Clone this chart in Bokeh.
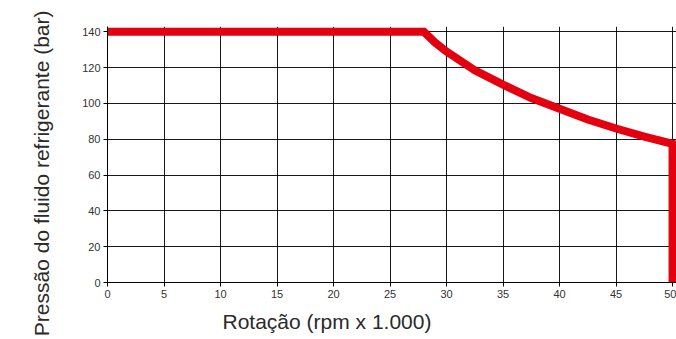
import numpy as np
from bokeh.plotting import figure
from bokeh.models import Range1d, FixedTicker, Title
from bokeh.embed import file_html
from bokeh.resources import INLINE

rotacao = [0, 28, 29, 30, 32.5, 35, 37.5, 40, 42.5, 45, 47.5, 50, 50]
pressao = [140, 140, 134, 129, 118.5, 110.5, 103, 97, 91, 86, 81.5, 77.5, 0]
x_ticks = [0, 5, 10, 15, 20, 25, 30, 35, 40, 45, 50]
y_ticks = [0, 20, 40, 60, 80, 100, 120, 140]
x_title = "Rotação (rpm x 1.000)"
y_title = "Pressão do fluido refrigerante (bar)"

p = figure(width=676, height=339, output_backend="svg", toolbar_location=None,
           x_range=Range1d(0, 50.35), y_range=Range1d(0, 143),
           min_border_left=107, min_border_right=0, min_border_top=26, min_border_bottom=57)
p.outline_line_color = None
p.background_fill_color = "white"
p.border_fill_color = "white"

for ax in (p.xaxis[0], p.yaxis[0]):
    ax.major_label_text_font = "Liberation Sans"
    ax.major_label_text_font_size = "11px"
    ax.major_label_text_color = "#333333"
    ax.axis_line_color = "black"
    ax.major_tick_line_color = "black"
    ax.major_tick_out = 4
    ax.major_tick_in = 0
    ax.minor_tick_line_color = None
    ax.major_label_standoff = 3

p.xaxis.ticker = FixedTicker(ticks=x_ticks)
p.yaxis.ticker = FixedTicker(ticks=y_ticks)
p.xgrid.ticker = FixedTicker(ticks=x_ticks)
p.ygrid.ticker = FixedTicker(ticks=y_ticks)
p.xgrid.grid_line_color = "black"
p.ygrid.grid_line_color = "black"
p.xgrid.grid_line_alpha = 0.9
p.ygrid.grid_line_alpha = 0.9

p.line(rotacao, pressao, line_color="#e3000f", line_width=8, line_join="miter")

p.add_layout(Title(text=x_title, align="left", offset=115, standoff=14,
                   text_font="Liberation Sans", text_font_size="21px",
                   text_font_style="normal", text_color="#2a2a2a"), "below")
p.add_layout(Title(text=y_title, align="right", offset=-16, standoff=54,
                   text_font="Liberation Sans", text_font_size="21px",
                   text_font_style="normal", text_color="#2a2a2a"), "left")

open("out.html", "w").write(file_html(p, INLINE))
